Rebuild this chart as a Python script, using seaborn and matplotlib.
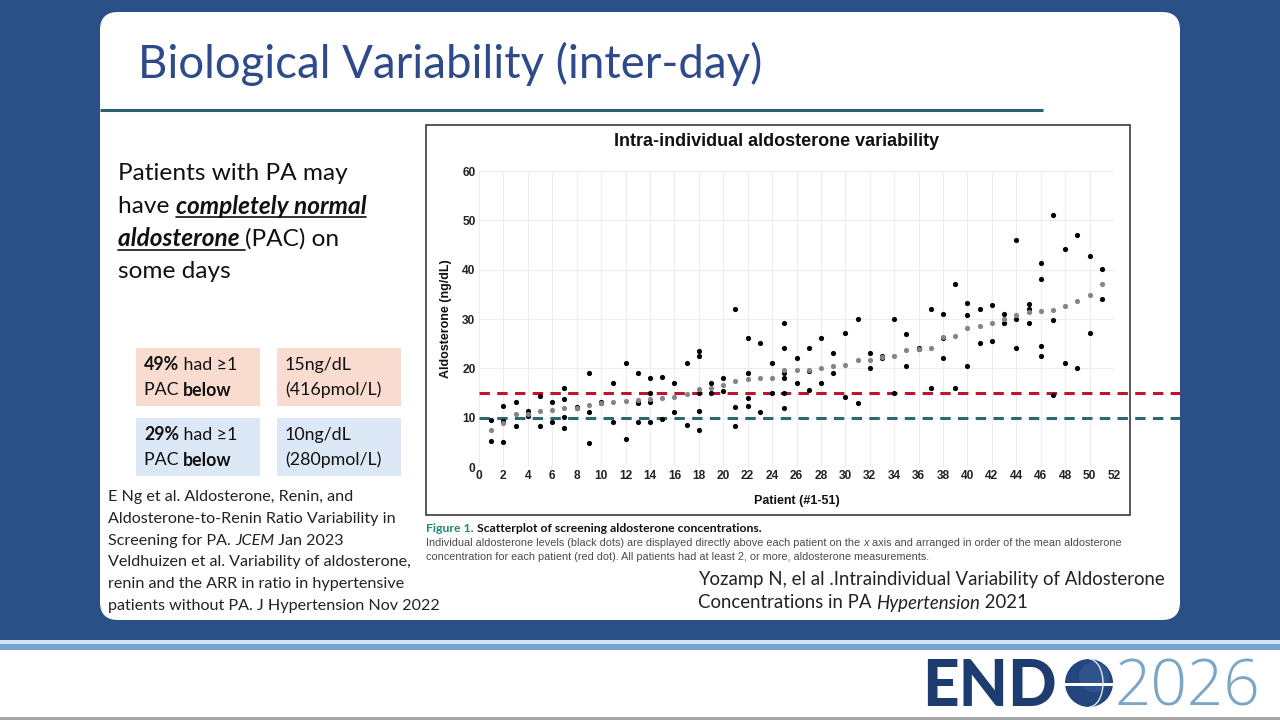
import pandas as pd
import seaborn as sns
import matplotlib.pyplot as plt
from matplotlib.patches import Rectangle, FancyBboxPatch, Circle, Arc

# Aldosterone readings (ng/dL) per patient
patients = list(range(1, 52))
aldosterone = [
    [9.5, 5.3], [12.4, 9.3, 5.1], [13.1, 8.3], [11.4, 10.3], [14.3, 8.3],
    [13.1, 9.1], [16.1, 13.8, 10.1, 8.0], [12.0, 12.1], [19.1, 11.1, 4.9], [13.1, 12.9],
    [17.1, 9.1], [21.1, 5.7], [19.1, 13.2, 12.9, 9.1], [18.1, 15.1, 13.1, 9.1], [18.2, 9.7],
    [17.1, 11.1], [21.1, 8.5], [23.5, 22.4, 14.9, 11.3, 7.4], [17.1, 15.1], [18.1, 15.4],
    [32.1, 12.1, 8.3], [26.1, 19.1, 13.9, 12.4], [25.1, 11.1], [21.1, 15.1],
    [29.1, 24.1, 19.1, 18.0, 15.1, 12.0], [22.0, 17.1], [24.1, 19.4, 15.7], [26.1, 17.1],
    [23.1, 19.1], [27.1, 14.1], [30.1, 13.0], [23.1, 20.1], [22.4, 22.0], [30.1, 15.1],
    [27.0, 20.5], [24.1, 24.0], [32.1, 16.1], [31.1, 26.1, 22.0], [37.1, 16.1],
    [33.3, 30.9, 20.5], [32.1, 25.1], [32.8, 25.6], [31.1, 29.1], [46.1, 30.1, 24.1],
    [33.1, 32.1, 29.1], [41.4, 38.2, 24.5, 22.6], [51.1, 29.7, 14.5], [44.1, 21.1],
    [47.0, 20.1], [42.8, 27.1], [40.1, 34.1],
]
mean_aldosterone = [
    7.4, 9.0, 10.7, 10.8, 11.3, 11.6, 11.9, 12.0, 12.5, 13.0,
    13.1, 13.4, 13.6, 13.8, 13.9, 14.1, 14.7, 15.9, 16.1, 16.7,
    17.5, 17.9, 18.1, 18.1, 19.6, 19.6, 19.7, 20.1, 20.4, 20.6,
    21.6, 21.6, 22.2, 22.6, 23.8, 24.0, 24.1, 26.4, 26.6, 28.2,
    28.6, 29.2, 30.1, 30.9, 31.4, 31.7, 31.8, 32.6, 33.6, 34.9, 37.1,
]
x_ticks = list(range(0, 53, 2))
y_ticks = [0, 10, 20, 30, 40, 50, 60]
cutoffs = [15, 10]
cutoff_colors = ["#c3122f", "#2f6670"]

df = pd.DataFrame(
    [(p, v) for p, vals in zip(patients, aldosterone) for v in vals],
    columns=["patient", "aldosterone"],
)
means = pd.DataFrame({"patient": patients, "mean": mean_aldosterone})

sns.set_theme(style="white")
plt.rcParams["font.family"] = ["Lato", "DejaVu Sans"]
CHART_FONT = ["Liberation Sans Narrow", "Liberation Sans", "DejaVu Sans"]

fig = plt.figure(figsize=(12.8, 7.2), dpi=100)
fig.patch.set_facecolor("#2a5087")

# full-figure layer in pixel units for the slide decoration
bg = fig.add_axes([0, 0, 1, 1], zorder=0)
bg.set_xlim(0, 1280)
bg.set_ylim(720, 0)
bg.axis("off")

bg.add_patch(FancyBboxPatch((100, 12), 1080, 608, boxstyle="round,pad=0,rounding_size=18",
                            fc="white", ec="none"))
bg.add_patch(Rectangle((0, 640), 1280, 4, fc="#d3e5f5", ec="none"))
bg.add_patch(Rectangle((0, 644), 1280, 6, fc="#77a3cf", ec="none"))
bg.add_patch(Rectangle((0, 650), 1280, 67, fc="white", ec="none"))
bg.add_patch(Rectangle((0, 717), 1280, 3, fc="#a8a8a8", ec="none"))

bg.text(138, 64, "Biological Variability (inter-day)", fontsize=32.8, color="#2f4a8a", va="center")
bg.plot([100, 1043], [110, 110], color="#2d5f6e", lw=2.2, solid_capstyle="butt")


def rich_line(ax, x, y, parts, size, color="#111111"):
    """Write text segments with mixed styles one after another on a line."""
    prev = None
    out = []
    for s, style in parts:
        props = dict(fontsize=size, color=color, va="center", ha="left")
        props.update(style)
        props.pop("underline", None)
        if prev is None:
            t = ax.text(x, y, s, **props)
        else:
            t = ax.annotate(s, xy=(1, 0.5), xycoords=prev, **props)
        out.append((t, style.get("underline", False)))
        prev = t
    return out


BIU = dict(fontweight="bold", fontstyle="italic", underline=True)
underlined = []
body = [
    [("Patients with PA may", {})],
    [("have ", {}), ("completely normal", BIU)],
    [("aldosterone ", BIU), ("(PAC) on", {})],
    [("some days", {})],
]
for i, parts in enumerate(body):
    underlined += rich_line(bg, 118, 174 + 32.5 * i, parts, 17.6)

# threshold boxes
boxes = [
    (136, 348, "#f9dccf", [("49%", {"fontweight": "bold"}), (" had ≥1", {})],
     [("PAC ", {}), ("below", {"fontweight": "bold"})]),
    (277, 348, "#f9dccf", [("15ng/dL", {})], [("(416pmol/L)", {})]),
    (136, 418, "#dce8f5", [("29%", {"fontweight": "bold"}), (" had ≥1", {})],
     [("PAC ", {}), ("below", {"fontweight": "bold"})]),
    (277, 418, "#dce8f5", [("10ng/dL", {})], [("(280pmol/L)", {})]),
]
for bx, by, fc, line1, line2 in boxes:
    bg.add_patch(Rectangle((bx, by), 124, 58, fc=fc, ec="none"))
    rich_line(bg, bx + 8, by + 17, line1, 12.8)
    rich_line(bg, bx + 8, by + 42, line2, 12.8)

refs = [
    [("E Ng et al. Aldosterone, Renin, and", {})],
    [("Aldosterone-to-Renin Ratio Variability in", {})],
    [("Screening for PA. ", {}), ("JCEM", {"fontstyle": "italic"}), (" Jan 2023", {})],
    [("Veldhuizen et al. Variability of aldosterone,", {})],
    [("renin and the ARR in ratio in hypertensive", {})],
    [("patients without PA. J Hypertension Nov 2022", {})],
]
for i, parts in enumerate(refs):
    rich_line(bg, 108, 497 + 21.8 * i, parts, 11.6, color="#222222")

rich_line(bg, 698, 579, [("Yozamp N, el al .Intraindividual Variability of Aldosterone", {})],
          13.4, color="#222222")
rich_line(bg, 698, 603, [("Concentrations in PA ", {}), ("Hypertension", {"fontstyle": "italic"}),
                         (" 2021", {})], 13.4, color="#222222")

# figure frame and caption
bg.add_patch(Rectangle((426, 125), 704, 390, fill=False, ec="#3a3a3a", lw=1.2))
bg.text(777, 141, "Intra-individual aldosterone variability", fontsize=13, fontweight="bold",
        ha="center", va="center", family=CHART_FONT, color="#111111")
rich_line(bg, 426, 528, [("Figure 1.", {"color": "#1e8a73", "fontweight": "bold"}),
                         (" Scatterplot of screening aldosterone concentrations.",
                          {"fontweight": "bold"})], 8.8, color="#111111")
rich_line(bg, 426, 543, [("Individual aldosterone levels (black dots) are displayed directly above each "
                          "patient on the ", {"family": CHART_FONT}),
                         ("x", {"family": CHART_FONT, "fontstyle": "italic"}),
                         (" axis and arranged in order of the mean aldosterone", {"family": CHART_FONT})],
          7.85, color="#4a4a4a")
rich_line(bg, 426, 557, [("concentration for each patient (red dot). All patients had at least 2, or more, "
                          "aldosterone measurements.", {"family": CHART_FONT})], 7.85, color="#4a4a4a")

# ENDO 2026 logo
bg.text(922, 706, "END", fontsize=46, fontweight="black", color="#1d3d70", va="baseline")
bg.add_patch(Circle((1089, 683), 24, fc="#24467e", ec="none"))
bg.add_patch(Circle((1094, 677), 15, fc="#4a74ad", ec="none", alpha=0.3))
bg.add_patch(Rectangle((1065, 683), 48, 3, fc="white", ec="none"))
bg.add_patch(Arc((1089, 683), 28, 48, theta1=-90, theta2=90, color="#dfe9f5", lw=1.0))
bg.text(1114, 706, "2026", fontsize=46, fontweight=300, family=["Open Sans", "Lato"],
        color="#7ba6c8", va="baseline")

# the scatter chart itself
ax = fig.add_axes([479 / 1280, 1 - 467 / 720, 635 / 1280, 296 / 720], zorder=2)
ax.set_facecolor("none")
for c, col in zip(cutoffs, cutoff_colors):
    ax.axhline(c, xmin=0, xmax=(1180 - 479) / 635, color=col, lw=2.2, dashes=(3.4, 2.4),
               clip_on=False, zorder=2)
sns.scatterplot(data=df, x="patient", y="aldosterone", color="black", s=14, linewidth=0,
                ax=ax, zorder=3)
sns.scatterplot(data=means, x="patient", y="mean", color="#858585", s=14, linewidth=0,
                ax=ax, zorder=4)
ax.set_xlim(0, 52)
ax.set_ylim(0, 60)
ax.set_xticks(x_ticks)
ax.set_yticks(y_ticks)
ax.grid(True, color="#ededed", lw=0.8)
ax.set_axisbelow(True)
for sp in ax.spines.values():
    sp.set_visible(False)
ax.tick_params(length=0, pad=2.5, labelsize=8.6, labelcolor="#222222", labelfontfamily=CHART_FONT)
for lab in ax.get_xticklabels() + ax.get_yticklabels():
    lab.set_fontweight("bold")
ax.set_xlabel("Patient (#1-51)", fontsize=9, fontweight="bold", family=CHART_FONT,
              color="#111111", labelpad=9)
ax.set_ylabel("Aldosterone (ng/dL)", fontsize=9, fontweight="bold", family=CHART_FONT,
              color="#111111", labelpad=7)

# underlines for the emphasised words
fig.canvas.draw()
renderer = fig.canvas.get_renderer()
inv = bg.transData.inverted()
for t, ul in underlined:
    if ul:
        bb = t.get_window_extent(renderer)
        (x0, y0), (x1, y1) = inv.transform([(bb.x0, bb.y0), (bb.x1, bb.y0)])
        bg.plot([x0, x1], [y0 - 1, y1 - 1], color="#111111", lw=1.2)

fig.savefig("out.png", dpi=100)
